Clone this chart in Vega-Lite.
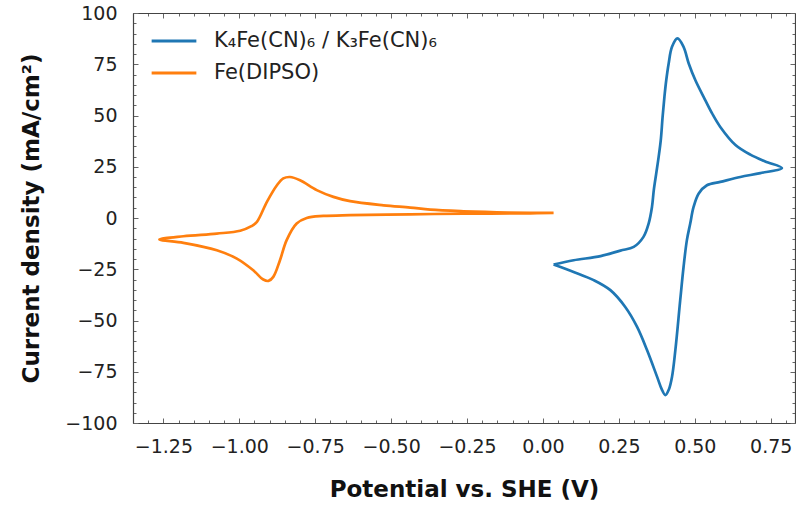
{
  "$schema": "https://vega.github.io/schema/vega-lite/v6.json",
  "autosize": "none",
  "width": 662,
  "height": 410,
  "padding": {"left": 133, "top": 13, "right": 1, "bottom": 84},
  "background": "white",
  "config": {
    "font": "DejaVu Sans",
    "view": {"stroke": null},
    "axis": {
      "domainColor": "#444444",
      "domainWidth": 1.2,
      "tickColor": "#666666",
      "tickWidth": 1,
      "grid": false,
      "labelFont": "DejaVu Sans",
      "labelFontSize": 19,
      "labelColor": "#222222",
      "titleFont": "DejaVu Sans",
      "titleFontWeight": "bold",
      "titleFontSize": 23,
      "titleColor": "#111111"
    }
  },
  "datasets": {
    "cv": [
      {"s": "K₄Fe(CN)₆ / K₃Fe(CN)₆", "i": 1, "v": 0.035, "j": -22.7},
      {"s": "K₄Fe(CN)₆ / K₃Fe(CN)₆", "i": 2, "v": 0.101, "j": -20.6},
      {"s": "K₄Fe(CN)₆ / K₃Fe(CN)₆", "i": 3, "v": 0.190, "j": -18.6},
      {"s": "K₄Fe(CN)₆ / K₃Fe(CN)₆", "i": 4, "v": 0.255, "j": -15.9},
      {"s": "K₄Fe(CN)₆ / K₃Fe(CN)₆", "i": 5, "v": 0.299, "j": -14.1},
      {"s": "K₄Fe(CN)₆ / K₃Fe(CN)₆", "i": 6, "v": 0.331, "j": -9.2},
      {"s": "K₄Fe(CN)₆ / K₃Fe(CN)₆", "i": 7, "v": 0.348, "j": -2.7},
      {"s": "K₄Fe(CN)₆ / K₃Fe(CN)₆", "i": 8, "v": 0.359, "j": 5.4},
      {"s": "K₄Fe(CN)₆ / K₃Fe(CN)₆", "i": 9, "v": 0.365, "j": 13.6},
      {"s": "K₄Fe(CN)₆ / K₃Fe(CN)₆", "i": 10, "v": 0.373, "j": 21.7},
      {"s": "K₄Fe(CN)₆ / K₃Fe(CN)₆", "i": 11, "v": 0.381, "j": 29.8},
      {"s": "K₄Fe(CN)₆ / K₃Fe(CN)₆", "i": 12, "v": 0.388, "j": 38.0},
      {"s": "K₄Fe(CN)₆ / K₃Fe(CN)₆", "i": 13, "v": 0.394, "j": 49.3},
      {"s": "K₄Fe(CN)₆ / K₃Fe(CN)₆", "i": 14, "v": 0.400, "j": 59.1},
      {"s": "K₄Fe(CN)₆ / K₃Fe(CN)₆", "i": 15, "v": 0.406, "j": 67.2},
      {"s": "K₄Fe(CN)₆ / K₃Fe(CN)₆", "i": 16, "v": 0.414, "j": 75.4},
      {"s": "K₄Fe(CN)₆ / K₃Fe(CN)₆", "i": 17, "v": 0.425, "j": 83.5},
      {"s": "K₄Fe(CN)₆ / K₃Fe(CN)₆", "i": 18, "v": 0.443, "j": 87.6},
      {"s": "K₄Fe(CN)₆ / K₃Fe(CN)₆", "i": 19, "v": 0.463, "j": 83.5},
      {"s": "K₄Fe(CN)₆ / K₃Fe(CN)₆", "i": 20, "v": 0.480, "j": 75.4},
      {"s": "K₄Fe(CN)₆ / K₃Fe(CN)₆", "i": 21, "v": 0.502, "j": 67.2},
      {"s": "K₄Fe(CN)₆ / K₃Fe(CN)₆", "i": 22, "v": 0.529, "j": 59.1},
      {"s": "K₄Fe(CN)₆ / K₃Fe(CN)₆", "i": 23, "v": 0.557, "j": 51.0},
      {"s": "K₄Fe(CN)₆ / K₃Fe(CN)₆", "i": 24, "v": 0.584, "j": 44.4},
      {"s": "K₄Fe(CN)₆ / K₃Fe(CN)₆", "i": 25, "v": 0.634, "j": 35.6},
      {"s": "K₄Fe(CN)₆ / K₃Fe(CN)₆", "i": 26, "v": 0.683, "j": 30.9},
      {"s": "K₄Fe(CN)₆ / K₃Fe(CN)₆", "i": 27, "v": 0.732, "j": 27.6},
      {"s": "K₄Fe(CN)₆ / K₃Fe(CN)₆", "i": 28, "v": 0.787, "j": 24.4},
      {"s": "K₄Fe(CN)₆ / K₃Fe(CN)₆", "i": 29, "v": 0.716, "j": 21.9},
      {"s": "K₄Fe(CN)₆ / K₃Fe(CN)₆", "i": 30, "v": 0.650, "j": 20.0},
      {"s": "K₄Fe(CN)₆ / K₃Fe(CN)₆", "i": 31, "v": 0.584, "j": 17.6},
      {"s": "K₄Fe(CN)₆ / K₃Fe(CN)₆", "i": 32, "v": 0.540, "j": 16.0},
      {"s": "K₄Fe(CN)₆ / K₃Fe(CN)₆", "i": 33, "v": 0.513, "j": 12.0},
      {"s": "K₄Fe(CN)₆ / K₃Fe(CN)₆", "i": 34, "v": 0.496, "j": 5.4},
      {"s": "K₄Fe(CN)₆ / K₃Fe(CN)₆", "i": 35, "v": 0.485, "j": -2.7},
      {"s": "K₄Fe(CN)₆ / K₃Fe(CN)₆", "i": 36, "v": 0.474, "j": -10.8},
      {"s": "K₄Fe(CN)₆ / K₃Fe(CN)₆", "i": 37, "v": 0.463, "j": -23.9},
      {"s": "K₄Fe(CN)₆ / K₃Fe(CN)₆", "i": 38, "v": 0.452, "j": -40.1},
      {"s": "K₄Fe(CN)₆ / K₃Fe(CN)₆", "i": 39, "v": 0.436, "j": -64.5},
      {"s": "K₄Fe(CN)₆ / K₃Fe(CN)₆", "i": 40, "v": 0.425, "j": -77.5},
      {"s": "K₄Fe(CN)₆ / K₃Fe(CN)₆", "i": 41, "v": 0.415, "j": -83.5},
      {"s": "K₄Fe(CN)₆ / K₃Fe(CN)₆", "i": 42, "v": 0.403, "j": -86.4},
      {"s": "K₄Fe(CN)₆ / K₃Fe(CN)₆", "i": 43, "v": 0.391, "j": -83.5},
      {"s": "K₄Fe(CN)₆ / K₃Fe(CN)₆", "i": 44, "v": 0.376, "j": -77.5},
      {"s": "K₄Fe(CN)₆ / K₃Fe(CN)₆", "i": 45, "v": 0.343, "j": -64.5},
      {"s": "K₄Fe(CN)₆ / K₃Fe(CN)₆", "i": 46, "v": 0.310, "j": -53.1},
      {"s": "K₄Fe(CN)₆ / K₃Fe(CN)₆", "i": 47, "v": 0.271, "j": -43.4},
      {"s": "K₄Fe(CN)₆ / K₃Fe(CN)₆", "i": 48, "v": 0.222, "j": -35.2},
      {"s": "K₄Fe(CN)₆ / K₃Fe(CN)₆", "i": 49, "v": 0.167, "j": -30.3},
      {"s": "K₄Fe(CN)₆ / K₃Fe(CN)₆", "i": 50, "v": 0.101, "j": -26.3},
      {"s": "K₄Fe(CN)₆ / K₃Fe(CN)₆", "i": 51, "v": 0.035, "j": -22.7},
      {"s": "Fe(DIPSO)", "i": 1, "v": 0.035, "j": 2.5},
      {"s": "Fe(DIPSO)", "i": 2, "v": -0.042, "j": 2.3},
      {"s": "Fe(DIPSO)", "i": 3, "v": -0.262, "j": 2.1},
      {"s": "Fe(DIPSO)", "i": 4, "v": -0.437, "j": 1.8},
      {"s": "Fe(DIPSO)", "i": 5, "v": -0.635, "j": 1.4},
      {"s": "Fe(DIPSO)", "i": 6, "v": -0.723, "j": 1.0},
      {"s": "Fe(DIPSO)", "i": 7, "v": -0.778, "j": 0.0},
      {"s": "Fe(DIPSO)", "i": 8, "v": -0.811, "j": -2.7},
      {"s": "Fe(DIPSO)", "i": 9, "v": -0.844, "j": -10.8},
      {"s": "Fe(DIPSO)", "i": 10, "v": -0.866, "j": -20.6},
      {"s": "Fe(DIPSO)", "i": 11, "v": -0.888, "j": -28.7},
      {"s": "Fe(DIPSO)", "i": 12, "v": -0.904, "j": -30.7},
      {"s": "Fe(DIPSO)", "i": 13, "v": -0.921, "j": -30.0},
      {"s": "Fe(DIPSO)", "i": 14, "v": -0.954, "j": -25.5},
      {"s": "Fe(DIPSO)", "i": 15, "v": -1.008, "j": -19.8},
      {"s": "Fe(DIPSO)", "i": 16, "v": -1.074, "j": -15.7},
      {"s": "Fe(DIPSO)", "i": 17, "v": -1.184, "j": -12.1},
      {"s": "Fe(DIPSO)", "i": 18, "v": -1.263, "j": -10.5},
      {"s": "Fe(DIPSO)", "i": 19, "v": -1.184, "j": -8.9},
      {"s": "Fe(DIPSO)", "i": 20, "v": -1.074, "j": -7.6},
      {"s": "Fe(DIPSO)", "i": 21, "v": -0.997, "j": -6.2},
      {"s": "Fe(DIPSO)", "i": 22, "v": -0.960, "j": -4.0},
      {"s": "Fe(DIPSO)", "i": 23, "v": -0.942, "j": -1.9},
      {"s": "Fe(DIPSO)", "i": 24, "v": -0.909, "j": 7.9},
      {"s": "Fe(DIPSO)", "i": 25, "v": -0.876, "j": 16.0},
      {"s": "Fe(DIPSO)", "i": 26, "v": -0.855, "j": 19.3},
      {"s": "Fe(DIPSO)", "i": 27, "v": -0.833, "j": 20.0},
      {"s": "Fe(DIPSO)", "i": 28, "v": -0.800, "j": 18.4},
      {"s": "Fe(DIPSO)", "i": 29, "v": -0.745, "j": 13.6},
      {"s": "Fe(DIPSO)", "i": 30, "v": -0.690, "j": 10.3},
      {"s": "Fe(DIPSO)", "i": 31, "v": -0.635, "j": 8.2},
      {"s": "Fe(DIPSO)", "i": 32, "v": -0.525, "j": 6.2},
      {"s": "Fe(DIPSO)", "i": 33, "v": -0.437, "j": 5.1},
      {"s": "Fe(DIPSO)", "i": 34, "v": -0.371, "j": 4.1},
      {"s": "Fe(DIPSO)", "i": 35, "v": -0.262, "j": 3.3},
      {"s": "Fe(DIPSO)", "i": 36, "v": -0.152, "j": 2.8},
      {"s": "Fe(DIPSO)", "i": 37, "v": -0.042, "j": 2.5},
      {"s": "Fe(DIPSO)", "i": 38, "v": 0.035, "j": 2.5}
    ]
  },
  "data": {"name": "cv"},
  "layer": [
    {
      "mark": {"type": "line", "strokeWidth": 2.7, "interpolate": "catmull-rom"},
      "encoding": {
        "x": {
          "field": "v", "type": "quantitative",
          "scale": {"domain": [-1.35, 0.83], "nice": false, "zero": false},
          "axis": {
            "orient": "bottom",
            "title": "Potential vs. SHE (V)",
            "titlePadding": 20,
            "values": [-1.35,-1.3,-1.25,-1.2,-1.15,-1.1,-1.05,-1,-0.95,-0.9,-0.85,-0.8,-0.75,-0.7,-0.65,-0.6,-0.55,-0.5,-0.45,-0.4,-0.35,-0.3,-0.25,-0.2,-0.15,-0.1,-0.05,0,0.05,0.1,0.15,0.2,0.25,0.3,0.35,0.4,0.45,0.5,0.55,0.6,0.65,0.7,0.75,0.8],
            "labelExpr": "abs(round(datum.value*100)) % 25 == 0 ? format(datum.value, '.2f') : ''",
            "tickSize": {"condition": {"test": "abs(round(datum.value*100)) % 25 == 0", "value": -5}, "value": -3},
            "labelPadding": 19,
            "labelFlush": false,
            "labelOverlap": false
          }
        },
        "y": {
          "field": "j", "type": "quantitative",
          "scale": {"domain": [-100, 100], "nice": false},
          "axis": {
            "orient": "left",
            "title": "Current density (mA/cm²)",
            "titlePadding": 21,
            "values": [-100,-95,-90,-85,-80,-75,-70,-65,-60,-55,-50,-45,-40,-35,-30,-25,-20,-15,-10,-5,0,5,10,15,20,25,30,35,40,45,50,55,60,65,70,75,80,85,90,95,100],
            "labelExpr": "datum.value % 25 == 0 ? format(datum.value, 'd') : ''",
            "tickSize": {"condition": {"test": "datum.value % 25 == 0", "value": -5}, "value": -3},
            "labelPadding": 21,
            "labelFlush": false,
            "labelOverlap": false
          }
        },
        "color": {
          "field": "s", "type": "nominal",
          "scale": {"domain": ["K₄Fe(CN)₆ / K₃Fe(CN)₆", "Fe(DIPSO)"], "range": ["#1f77b4", "#ff7f0e"]},
          "legend": {
            "title": null,
            "orient": "none",
            "legendX": 28,
            "legendY": 15,
            "symbolType": "M-2,0L2,0",
            "symbolSize": 500,
            "symbolStrokeWidth": 3,
            "labelFontSize": 21,
            "labelFont": "DejaVu Sans",
            "labelColor": "#222222",
            "labelOffset": 27,
            "rowPadding": 9,
            "labelLimit": 400
          }
        },
        "order": {"field": "i", "type": "quantitative"}
      }
    },
    {
      "mark": {"type": "line", "opacity": 0},
      "encoding": {
        "x": {
          "field": "v", "type": "quantitative",
          "axis": {
            "orient": "top", "title": null, "labels": false,
            "values": [-1.35,-1.3,-1.25,-1.2,-1.15,-1.1,-1.05,-1,-0.95,-0.9,-0.85,-0.8,-0.75,-0.7,-0.65,-0.6,-0.55,-0.5,-0.45,-0.4,-0.35,-0.3,-0.25,-0.2,-0.15,-0.1,-0.05,0,0.05,0.1,0.15,0.2,0.25,0.3,0.35,0.4,0.45,0.5,0.55,0.6,0.65,0.7,0.75,0.8],
            "tickSize": {"condition": {"test": "abs(round(datum.value*100)) % 25 == 0", "value": -5}, "value": -3}
          }
        },
        "y": {
          "field": "j", "type": "quantitative",
          "axis": {
            "orient": "right", "title": null, "labels": false,
            "values": [-100,-95,-90,-85,-80,-75,-70,-65,-60,-55,-50,-45,-40,-35,-30,-25,-20,-15,-10,-5,0,5,10,15,20,25,30,35,40,45,50,55,60,65,70,75,80,85,90,95,100],
            "tickSize": {"condition": {"test": "datum.value % 25 == 0", "value": -5}, "value": -3}
          }
        },
        "detail": {"field": "s", "type": "nominal"},
        "order": {"field": "i", "type": "quantitative"}
      }
    }
  ],
  "resolve": {"axis": {"x": "independent", "y": "independent"}}
}
